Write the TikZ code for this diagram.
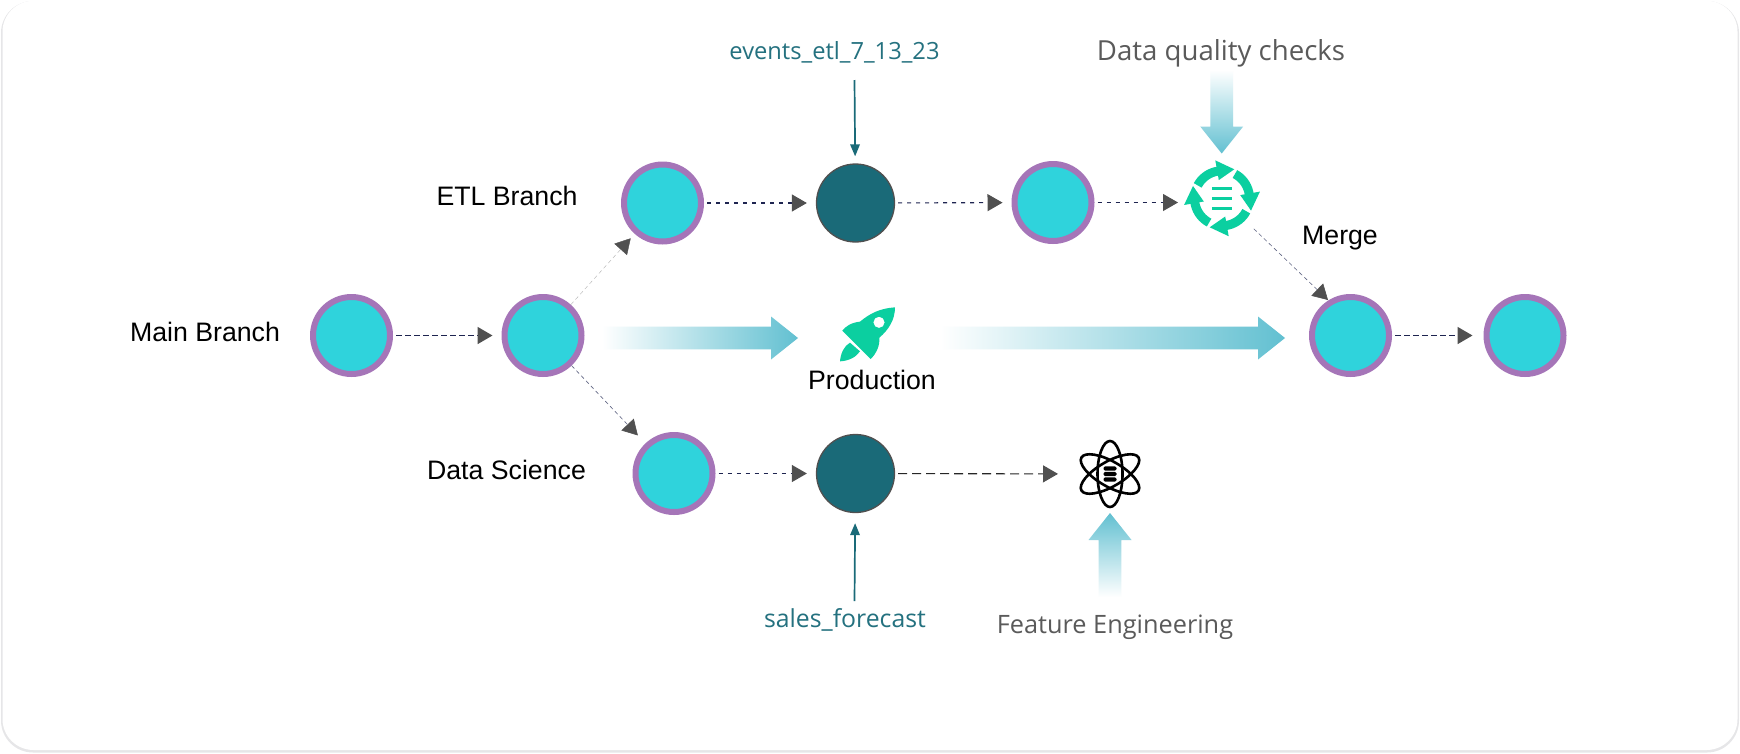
\documentclass[tikz,border=0pt]{standalone}
\usepackage{fontspec}
\setmainfont{Liberation Sans}
\newfontfamily\inter{Open Sans}
\usetikzlibrary{arrows.meta,calc}
\definecolor{cyanfill}{HTML}{2FD3DC}
\definecolor{purpleline}{HTML}{A575B8}
\definecolor{darkteal}{HTML}{1A6A78}
\definecolor{tealtext}{HTML}{24717F}
\definecolor{tipgrey}{HTML}{505050}
\definecolor{navydash}{HTML}{1E2450}
\definecolor{mint}{HTML}{0BCFA0}
\definecolor{blockend}{HTML}{62C0D1}
\definecolor{greytext}{HTML}{5A5A5A}
\definecolor{shadowgrey}{HTML}{E6E6E8}
\newcommand{\blockh}[3]{\shade[left color=white,right color=blockend] (#1,#3-11.3) -- (#2-27,#3-11.3) -- (#2-27,#3-21.5) -- (#2,#3) -- (#2-27,#3+21.5) -- (#2-27,#3+11.3) -- (#1,#3+11.3) -- cycle;}
\newcommand{\blockdown}[3]{\shade[top color=white,bottom color=blockend] (#3-11.3,#1) -- (#3-11.3,#2-27) -- (#3-21.5,#2-27) -- (#3,#2) -- (#3+21.5,#2-27) -- (#3+11.3,#2-27) -- (#3+11.3,#1) -- cycle;}
\newcommand{\blockup}[3]{\shade[bottom color=white,top color=blockend] (#3-11.3,#1) -- (#3-11.3,#2+27) -- (#3-21.5,#2+27) -- (#3,#2) -- (#3+21.5,#2+27) -- (#3+11.3,#2+27) -- (#3+11.3,#1) -- cycle;}
\tikzset{
  x=1pt,y=-1pt,
  branchnode/.style={circle,draw=purpleline,line width=6pt,fill=cyanfill,minimum size=77pt,inner sep=0pt},
  commitnode/.style={circle,draw=tipgrey,line width=1.3pt,fill=darkteal,minimum size=78pt,inner sep=0pt},
  ghost/.style={circle,minimum size=#1,inner sep=0pt,outer sep=0pt},
  dashflow/.style={line width=1.7pt,draw=navydash,dash pattern=on 5.5pt off 3.5pt,-{Triangle[length=15pt,width=17pt,color=tipgrey]}},
  thinflow/.style={line width=.6pt,draw=navydash!70,dash pattern=on 4pt off 3pt,-{Triangle[length=15pt,width=17pt,color=tipgrey]}},
  faintflow/.style={line width=.4pt,draw=black!30,dash pattern=on 4pt off 3pt,-{Triangle[length=15pt,width=17pt,color=tipgrey]}},
  midflow/.style={line width=1.1pt,draw=navydash,dash pattern=on 4pt off 5pt,-{Triangle[length=15pt,width=17pt,color=tipgrey]}},
  longflow/.style={line width=1.1pt,draw=black!85,dash pattern=on 9pt off 5pt,-{Triangle[length=15pt,width=17pt,color=tipgrey]}},
  tealflow/.style={line width=1.7pt,draw=darkteal,-{Triangle[length=12pt,width=9.5pt,color=darkteal]}},
  sanslabel/.style={font=\fontsize{26.7}{30}\selectfont,text=black,inner sep=0pt},
  greylabel/.style={text=greytext,inner sep=0pt},
  teallabel/.style={text=tealtext,inner sep=0pt},
}
\begin{document}
\begin{tikzpicture}
\useasboundingbox (0,0) rectangle (1740,753);
% card
\fill[shadowgrey,rounded corners=32pt] (1,1) rectangle (1739,752.5);
\fill[white,rounded corners=31pt] (2.5,0.8) rectangle (1737.5,750);

% nodes
\node[branchnode] (m1) at (351.5,335.5) {};
\node[branchnode] (m2) at (543,335.5) {};
\node[branchnode] (e1) at (662.5,203) {};
\node[commitnode] (c1) at (855.5,203) {};
\node[branchnode] (e3) at (1053,202.5) {};
\node[ghost=88pt] (qc) at (1222,198.3) {};
\node[branchnode] (j1) at (1350.5,335.5) {};
\node[branchnode] (j2) at (1525,335.5) {};
\node[branchnode] (d1) at (674,473.5) {};
\node[commitnode] (c2) at (855.5,473.5) {};
\node[ghost=80pt] (atom) at (1110,474) {};

% labels
\node[sanslabel] (lmain) at (205,332) {Main Branch};
\node[sanslabel] (letl) at (507,195.5) {ETL Branch};
\node[sanslabel] (lds) at (506.5,470) {Data Science};
\node[sanslabel] (lmerge) at (1340,238) {Merge};
\node[sanslabel] (lprod) at (872,380) {Production};
\node[greylabel,font=\inter\fontsize{27.6}{30}\selectfont] (ldq) at (1221,53) {Data quality checks};
\node[greylabel,font=\inter\fontsize{25.3}{30}\selectfont] (lfe) at (1115,627) {Feature Engineering};
\node[teallabel,font=\inter\fontsize{23.7}{28}\selectfont] (lev) at (834.5,52) {events\_etl\_7\_13\_23};
\node[teallabel,font=\inter\fontsize{24.8}{28}\selectfont] (lsf) at (845,620) {sales\_forecast};
\coordinate (evstart) at (854.5,80);
\coordinate (sfstart) at (854.5,601);
\coordinate (mergetip) at (1328,300);

% block arrows
\blockh{602}{798}{338}
\blockh{940}{1285}{338}
\blockdown{70}{153.5}{1221.7}
\blockup{597}{513}{1110}

% connectors
\draw[dashflow,shorten <=3pt,shorten >=9pt] (m1) -- (m2);
\draw[faintflow,shorten >=6pt] (m2) -- (e1);
\draw[thinflow,shorten >=11pt] (m2) -- (d1);
\draw[midflow,shorten <=3pt,shorten >=9pt] (e1) -- (c1);
\draw[midflow,shorten <=3pt,shorten >=9pt] (c1) -- (e3);
\draw[midflow,shorten <=3pt] (e3) -- (e3 -| qc.west);
\draw[thinflow] (qc) -- (mergetip);
\draw[dashflow,shorten <=3pt,shorten >=11pt] (j1) -- (j2);
\draw[midflow,shorten <=3pt,shorten >=9pt] (d1) -- (c2);
\draw[longflow,shorten <=3pt,shorten >=12pt] (c2) -- (atom);
\draw[tealflow,shorten >=7pt] (evstart) -- (c1);
\draw[tealflow,shorten >=10pt] (sfstart) -- (c2);

% rocket
\begin{scope}[shift={(780,290)},scale=1/3]
\fill[mint,even odd rule] (345,52) .. controls (300,55) and (270,70) .. (240,95) .. controls (215,97) and (195,110) .. (187,122) -- (272,207) .. controls (290,190) and (300,165) .. (298,143) .. controls (325,120) and (345,90) .. (345,52) -- cycle
 (297,97) circle[radius=17pt];
\fill[mint] (180,214) .. controls (182,190) and (192,168) .. (210,158) -- (240,184) .. controls (228,202) and (205,213) .. (180,214) -- cycle;
\end{scope}

% quality-check icon
\begin{scope}[shift={(qc.center)},yscale=-1]
\foreach \r in {0,90,180,270}{
  \begin{scope}[rotate=\r]
  \draw[mint,line width=9pt] plot[smooth,domain=152:98,samples=10] (\x:27.5);
  \fill[mint] (100:18.5) -- (100:38.5) -- (67:31.5) -- cycle;
  \end{scope}
}
\fill[mint] (-10,11.5) rectangle (10,8.8);
\fill[mint] (-10,1.4) rectangle (10,-1.4);
\fill[mint] (-10,-8.8) rectangle (10,-11.5);
\end{scope}

% atom icon
\begin{scope}[shift={(atom.center)}]
\foreach \r in {0,60,120}{
  \draw[black,line width=2.6pt,rotate=\r] (0,0) circle[x radius=12.5pt,y radius=33pt];
}
\foreach \yy in {-5.5,0,5.5}{
  \fill[black,rounded corners=1.5pt] (-6.5,\yy-2.2) rectangle (6.5,\yy+2.2);
}
\end{scope}
\end{tikzpicture}
\end{document}
